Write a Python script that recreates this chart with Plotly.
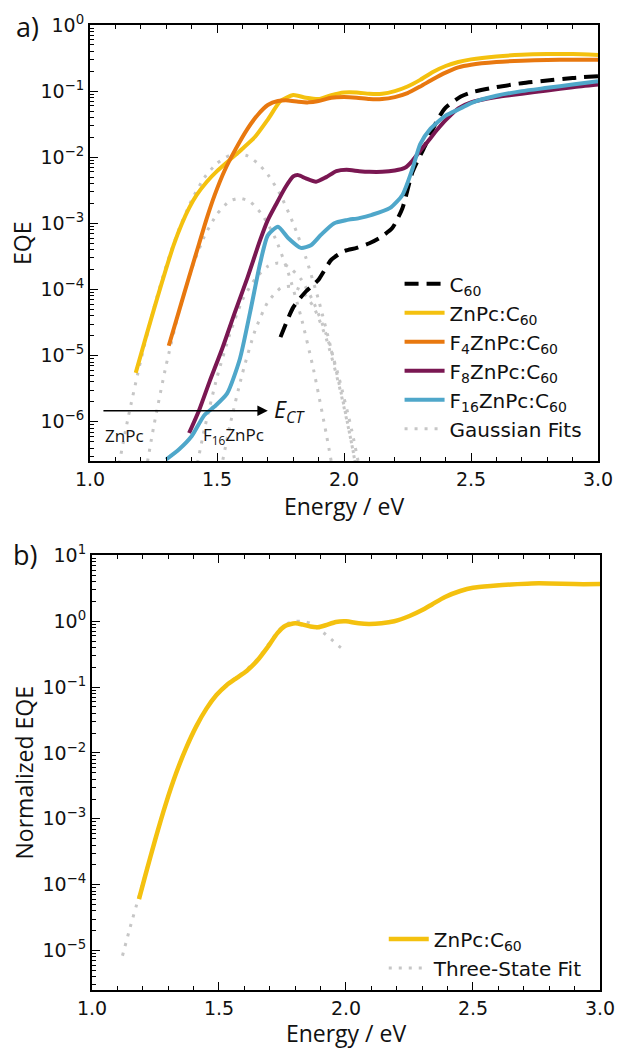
import numpy as np
import plotly.graph_objects as go

# ---------------- Panel a) data (log10 EQE read from the picture) ----------------
e_c60 = [1.75, 1.80, 1.85, 1.90, 1.95, 2.00, 2.05, 2.10, 2.14, 2.19, 2.23, 2.27, 2.32, 2.37, 2.40, 2.46, 2.50, 2.60, 2.70, 2.80, 2.90, 3.00]
log_c60 = [-4.72, -4.27, -4.03, -3.85, -3.55, -3.42, -3.37, -3.30, -3.22, -3.07, -2.77, -2.22, -1.82, -1.42, -1.25, -1.08, -1.02, -0.94, -0.88, -0.84, -0.80, -0.775]

e_znpc = [1.18, 1.22, 1.26, 1.30, 1.33, 1.36, 1.39, 1.42, 1.46, 1.50, 1.55, 1.60, 1.65, 1.70, 1.75, 1.80, 1.85, 1.90, 1.95, 2.00, 2.05, 2.10, 2.15, 2.20, 2.25, 2.30, 2.35, 2.40, 2.45, 2.50, 2.60, 2.70, 2.80, 2.90, 3.00]
log_znpc = [-5.26, -4.72, -4.19, -3.68, -3.32, -3.02, -2.77, -2.57, -2.37, -2.21, -2.04, -1.87, -1.69, -1.43, -1.15, -1.06, -1.10, -1.12, -1.06, -1.02, -1.02, -1.04, -1.04, -1.00, -0.93, -0.83, -0.71, -0.62, -0.56, -0.52, -0.475, -0.45, -0.44, -0.44, -0.455]

e_f4 = [1.31, 1.35, 1.39, 1.43, 1.46, 1.49, 1.53, 1.57, 1.62, 1.66, 1.70, 1.74, 1.78, 1.82, 1.86, 1.90, 1.95, 2.00, 2.05, 2.10, 2.15, 2.20, 2.25, 2.30, 2.35, 2.40, 2.45, 2.50, 2.60, 2.70, 2.80, 2.90, 3.00]
log_f4 = [-4.85, -4.33, -3.81, -3.30, -2.92, -2.58, -2.20, -1.90, -1.57, -1.36, -1.21, -1.15, -1.14, -1.16, -1.17, -1.15, -1.10, -1.09, -1.10, -1.12, -1.12, -1.09, -1.03, -0.93, -0.82, -0.72, -0.64, -0.60, -0.56, -0.54, -0.53, -0.525, -0.525]

e_f8 = [1.39, 1.43, 1.47, 1.52, 1.57, 1.62, 1.67, 1.70, 1.73, 1.77, 1.80, 1.82, 1.85, 1.89, 1.93, 1.97, 2.01, 2.06, 2.10, 2.15, 2.20, 2.24, 2.27, 2.30, 2.33, 2.37, 2.40, 2.45, 2.50, 2.60, 2.70, 2.80, 2.90, 3.00]
log_f8 = [-6.17, -5.82, -5.40, -4.90, -4.35, -3.82, -3.25, -2.95, -2.73, -2.45, -2.29, -2.27, -2.32, -2.37, -2.30, -2.21, -2.19, -2.21, -2.22, -2.22, -2.20, -2.16, -2.05, -1.90, -1.76, -1.57, -1.44, -1.26, -1.17, -1.09, -1.04, -0.99, -0.94, -0.90]

e_f16 = [1.30, 1.35, 1.40, 1.45, 1.49, 1.54, 1.59, 1.63, 1.67, 1.70, 1.74, 1.78, 1.83, 1.87, 1.91, 1.96, 2.01, 2.06, 2.11, 2.18, 2.23, 2.27, 2.30, 2.34, 2.40, 2.46, 2.50, 2.60, 2.70, 2.80, 2.90, 3.00]
log_f16 = [-6.57, -6.42, -6.22, -5.90, -5.77, -5.57, -5.05, -4.35, -3.60, -3.18, -3.05, -3.22, -3.37, -3.33, -3.17, -3.00, -2.95, -2.92, -2.87, -2.77, -2.57, -2.17, -1.80, -1.57, -1.37, -1.26, -1.18, -1.07, -1.00, -0.95, -0.90, -0.85]

# Gaussian fits (log10 EQE)
e_g1 = [1.10, 1.15, 1.20, 1.25, 1.30, 1.35, 1.40, 1.45, 1.50, 1.55, 1.58, 1.62, 1.66, 1.70, 1.75, 1.80, 1.85, 1.90, 1.95, 2.00, 2.05]
log_g1 = [-6.93, -5.94, -5.07, -4.30, -3.64, -3.09, -2.65, -2.31, -2.09, -1.97, -1.95, -1.98, -2.09, -2.26, -2.57, -3.00, -3.52, -4.16, -4.91, -5.76, -6.72]
e_g2 = [1.20, 1.25, 1.30, 1.35, 1.40, 1.45, 1.50, 1.55, 1.59, 1.63, 1.68, 1.73, 1.78, 1.83, 1.88, 1.93, 1.96]
log_g2 = [-7.20, -6.09, -5.14, -4.34, -3.69, -3.20, -2.86, -2.66, -2.62, -2.67, -2.88, -3.23, -3.74, -4.40, -5.21, -6.18, -6.82]
e_g3 = [1.40, 1.45, 1.50, 1.55, 1.60, 1.65, 1.70, 1.74, 1.78, 1.83, 1.88, 1.93, 1.98, 2.03, 2.08]
log_g3 = [-7.07, -6.12, -5.33, -4.68, -4.16, -3.84, -3.65, -3.60, -3.65, -3.84, -4.19, -4.68, -5.33, -6.12, -7.07]
e_g4 = [1.50, 1.55, 1.60, 1.65, 1.70, 1.75, 1.79, 1.83, 1.88, 1.93, 1.98, 2.03, 2.08]
log_g4 = [-7.02, -6.07, -5.27, -4.62, -4.19, -3.98, -3.95, -4.01, -4.26, -4.74, -5.44, -6.33, -7.42]

# ---------------- Panel b) data ----------------
e_norm = [1.185, 1.21, 1.25, 1.29, 1.33, 1.37, 1.41, 1.45, 1.49, 1.53, 1.57, 1.61, 1.65, 1.69, 1.73, 1.76, 1.80, 1.83, 1.86, 1.89, 1.92, 1.96, 2.00, 2.05, 2.09, 2.14, 2.19, 2.25, 2.30, 2.34, 2.39, 2.45, 2.50, 2.58, 2.65, 2.73, 2.80, 2.90, 3.00]
log_norm = [-4.22, -3.86, -3.30, -2.78, -2.32, -1.93, -1.60, -1.33, -1.12, -0.97, -0.86, -0.75, -0.60, -0.40, -0.18, -0.07, -0.03, -0.05, -0.08, -0.09, -0.06, -0.01, 0.0, -0.03, -0.04, -0.03, 0.0, 0.08, 0.17, 0.26, 0.37, 0.46, 0.51, 0.54, 0.56, 0.575, 0.575, 0.565, 0.565]

e_fit3 = [1.12, 1.15, 1.185, 1.21, 1.25, 1.29, 1.33, 1.37, 1.41, 1.45, 1.49, 1.53, 1.57, 1.61, 1.65, 1.69, 1.73, 1.76, 1.80, 1.83, 1.86, 1.89, 1.92, 1.95, 1.98, 2.00]
log_fit3 = [-5.08, -4.65, -4.18, -3.84, -3.29, -2.78, -2.32, -1.93, -1.60, -1.33, -1.12, -0.96, -0.85, -0.73, -0.58, -0.38, -0.16, -0.05, 0.0, 0.0, -0.03, -0.11, -0.20, -0.30, -0.40, -0.45]

YELLOW = "#F4C10F"
ORANGE = "#E8780F"
PURPLE = "#7A1752"
BLUE = "#4FA7CA"
GRAY = "#C6C6C6"

def p10(v):
    return np.power(10.0, np.array(v))

fig = go.Figure()

def add(x, logy, name, color, width, dash, ax, legend, group, show=True):
    fig.add_trace(go.Scatter(
        x=x, y=p10(logy), mode="lines", name=name,
        line=dict(color=color, width=width, dash=dash, shape="spline", smoothing=0.6),
        xaxis=ax[0], yaxis=ax[1], legend=legend, legendgroup=group, showlegend=show))

A = ("x", "y")
B = ("x2", "y2")
DOT = "3px,7px"
add(e_g1, log_g1, "Gaussian Fits", GRAY, 3, DOT, A, "legend", "g5", False)
add(e_g2, log_g2, "Gaussian Fits", GRAY, 3, DOT, A, "legend", "g5", False)
add(e_g3, log_g3, "Gaussian Fits", GRAY, 3, DOT, A, "legend", "g5", False)
add(e_g4, log_g4, "Gaussian Fits", GRAY, 3, DOT, A, "legend", "g5", True)
add(e_c60, log_c60, "C<sub>60</sub>", "black", 4, "14px,8px", A, "legend", "g0")
add(e_znpc, log_znpc, "ZnPc:C<sub>60</sub>", YELLOW, 4, "solid", A, "legend", "g1")
add(e_f4, log_f4, "F<sub>4</sub>ZnPc:C<sub>60</sub>", ORANGE, 4, "solid", A, "legend", "g2")
add(e_f8, log_f8, "F<sub>8</sub>ZnPc:C<sub>60</sub>", PURPLE, 4, "solid", A, "legend", "g3")
add(e_f16, log_f16, "F<sub>16</sub>ZnPc:C<sub>60</sub>", BLUE, 4, "solid", A, "legend", "g4")

add(e_fit3, log_fit3, "Three-State Fit", GRAY, 3, DOT, B, "legend2", "h1")
add(e_norm, log_norm, "ZnPc:C<sub>60</sub>", YELLOW, 4.5, "solid", B, "legend2", "h0")

order = {"g0": 1, "g1": 2, "g2": 3, "g3": 4, "g4": 5, "g5": 6, "h0": 1, "h1": 2}
for tr in fig.data:
    tr.legendrank = order[tr.legendgroup]

TICKFONT = dict(family="DejaVu Sans", size=19, color="#111")
TITLEFONT = dict(family="Open Sans", size=23, color="#111")

def ylog_ticks(lo, hi):
    vals = [10.0 ** k for k in range(lo, hi + 1)]
    txt = ["10<sup>%s</sup>" % (str(k).replace("-", "\u2212")) for k in range(lo, hi + 1)]
    minor = [m * 10.0 ** k for k in range(lo - 1, hi + 1) for m in range(2, 10)]
    return vals, txt, minor

xcommon = dict(range=[1.0, 3.0], tickvals=[1.0, 1.5, 2.0, 2.5, 3.0], ticktext=["1.0", "1.5", "2.0", "2.5", "3.0"],
               ticks="inside", ticklen=8, tickwidth=1.2, tickcolor="black",
               showline=True, linecolor="black", linewidth=2, mirror="ticks",
               showgrid=False, zeroline=False, tickfont=TICKFONT,
               minor=dict(dtick=0.1, ticks="inside", ticklen=4, tickcolor="black", showgrid=False),
               title=dict(text="Energy / eV", font=TITLEFONT, standoff=2))

va, ta, ma = ylog_ticks(-6, 0)
vb, tb, mb = ylog_ticks(-5, 1)
ycommon = dict(type="log", ticks="inside", ticklen=8, tickwidth=1.2, tickcolor="black",
               showline=True, linecolor="black", linewidth=2, mirror=True,
               showgrid=False, zeroline=False, tickfont=TICKFONT)

LEGFONT = dict(family="DejaVu Sans", size=20, color="#111")
fig.update_layout(
    width=627, height=1049,
    margin=dict(l=90, r=18, t=25, b=49),
    paper_bgcolor="white", plot_bgcolor="white",
    xaxis=dict(domain=[0.0, 0.9961], anchor="y", **xcommon),
    yaxis=dict(domain=[0.5477, 1.0], anchor="x", range=[-6.6, 0.0], tickvals=va, ticktext=ta,
               minor=dict(tickvals=ma, ticks="inside", ticklen=4, tickcolor="black", showgrid=False),
               title=dict(text="EQE", font=TITLEFONT, standoff=2), **ycommon),
    xaxis2=dict(domain=[0.0039, 1.0], anchor="y2", **xcommon),
    yaxis2=dict(domain=[0.0, 0.4503], anchor="x2", range=[-5.6, 1.0], tickvals=vb, ticktext=tb,
                minor=dict(tickvals=mb, ticks="inside", ticklen=4, tickcolor="black", showgrid=False),
                title=dict(text="Normalized EQE", font=TITLEFONT, standoff=2), **ycommon),
    legend=dict(x=0.607, y=0.752, xanchor="left", yanchor="top", bgcolor="rgba(0,0,0,0)",
                font=LEGFONT, tracegroupgap=7, itemwidth=40, traceorder="normal"),
    legend2=dict(x=0.576, y=0.073, xanchor="left", yanchor="top", bgcolor="rgba(0,0,0,0)",
                 font=LEGFONT, tracegroupgap=7, itemwidth=40, traceorder="normal"),
    showlegend=True,
)

fig.add_annotation(text="a)", xref="paper", yref="paper", x=-0.15, y=0.998, xanchor="left", yanchor="middle",
                   showarrow=False, font=dict(family="Open Sans", size=27, color="#111"))
fig.add_annotation(text="b)", xref="paper", yref="paper", x=-0.155, y=0.451, xanchor="left", yanchor="middle",
                   showarrow=False, font=dict(family="Open Sans", size=27, color="#111"))

ARROW_Y = np.log10(1.47e-6)
fig.add_annotation(x=1.70, y=ARROW_Y, ax=1.047, ay=ARROW_Y, xref="x", yref="y", axref="x", ayref="y",
                   showarrow=True, arrowhead=2, arrowsize=1.3, arrowwidth=1.6, arrowcolor="black", text="")
fig.add_annotation(x=1.715, y=ARROW_Y, xref="x", yref="y", xanchor="left", yanchor="middle", showarrow=False,
                   text="<i>E<sub>CT</sub></i>", font=dict(family="Open Sans", size=23, color="#111"))
fig.add_annotation(x=1.135, y=np.log10(6.3e-7), xref="x", yref="y", showarrow=False,
                   text="ZnPc", font=dict(family="Open Sans", size=17, color="#111"))
fig.add_annotation(x=1.565, y=np.log10(6.3e-7), xref="x", yref="y", showarrow=False,
                   text="F<sub>16</sub>ZnPc", font=dict(family="Open Sans", size=17, color="#111"))

fig.write_html("out.html", config={"displayModeBar": False},
               post_script="document.body.style.margin='0';document.body.style.overflow='hidden';")
